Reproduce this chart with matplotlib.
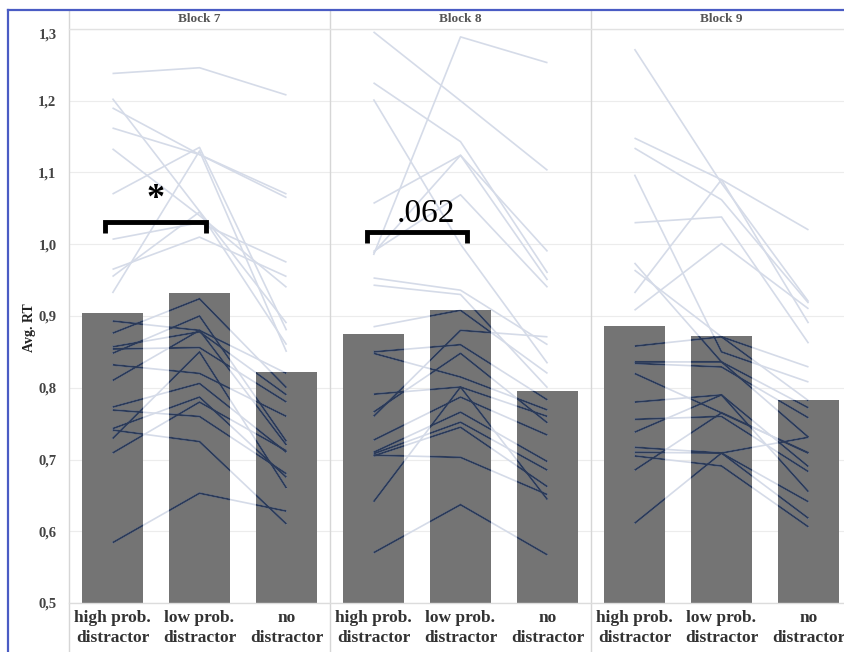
import numpy as np
import matplotlib.pyplot as plt
from matplotlib.collections import LineCollection
from matplotlib.lines import Line2D


blocks = ["Block 7", "Block 8", "Block 9"]
conditions = ["high prob.\ndistractor", "low prob.\ndistractor", "no\ndistractor"]

# bar heights (avg. RT) per block: high, low, no distractor
bar_rt = [
    [0.904, 0.932, 0.822],
    [0.875, 0.909, 0.796],
    [0.886, 0.872, 0.783],
]

# one row per participant: high prob., low prob., no distractor
subj_block7 = [
    [1.238, 1.246, 1.208], [1.203, 1.046, 0.890], [1.190, 1.125, 1.065],
    [1.162, 1.125, 1.070], [1.133, 1.040, 0.940], [1.070, 1.135, 0.880],
    [1.007, 1.030, 0.975], [0.965, 1.010, 0.955], [0.955, 1.045, 0.860],
    [0.932, 1.130, 0.850], [0.893, 0.880, 0.820], [0.876, 0.924, 0.800],
    [0.857, 0.878, 0.790], [0.854, 0.856, 0.780], [0.848, 0.900, 0.725],
    [0.832, 0.820, 0.760], [0.810, 0.880, 0.720], [0.773, 0.806, 0.710],
    [0.769, 0.760, 0.680], [0.743, 0.787, 0.675], [0.741, 0.725, 0.610],
    [0.729, 0.850, 0.660], [0.709, 0.780, 0.712], [0.584, 0.653, 0.628],
]
subj_block8 = [
    [1.296, 1.200, 1.103], [0.985, 1.289, 1.253], [1.225, 1.143, 0.960],
    [1.202, 1.000, 0.834], [1.057, 1.124, 0.990], [0.988, 1.124, 0.950],
    [0.990, 1.069, 0.940], [0.953, 0.936, 0.860], [0.943, 0.930, 0.800],
    [0.885, 0.908, 0.820], [0.850, 0.860, 0.783], [0.848, 0.815, 0.769],
    [0.791, 0.801, 0.760], [0.766, 0.848, 0.751], [0.727, 0.787, 0.734],
    [0.710, 0.766, 0.697], [0.708, 0.752, 0.685], [0.705, 0.745, 0.662],
    [0.706, 0.703, 0.651], [0.641, 0.801, 0.644], [0.570, 0.637, 0.567],
    [0.760, 0.880, 0.871],
]
subj_block9 = [
    [1.272, 1.085, 0.920], [1.148, 1.090, 1.020], [1.134, 1.062, 0.918],
    [1.097, 0.850, 0.808], [1.030, 1.038, 0.862], [0.974, 0.836, 0.731],
    [0.964, 0.871, 0.829], [0.932, 1.090, 0.890], [0.908, 1.001, 0.910],
    [0.858, 0.871, 0.782], [0.836, 0.836, 0.772], [0.834, 0.829, 0.758],
    [0.820, 0.765, 0.709], [0.780, 0.790, 0.690], [0.756, 0.760, 0.683],
    [0.738, 0.790, 0.655], [0.717, 0.709, 0.641], [0.710, 0.709, 0.618],
    [0.705, 0.691, 0.606], [0.685, 0.765, 0.709], [0.611, 0.709, 0.731],
]
subjects = [subj_block7, subj_block8, subj_block9]

y_ticks = [0.5, 0.6, 0.7, 0.8, 0.9, 1.0, 1.1, 1.2, 1.3]
y_tick_labels = ["0,5", "0,6", "0,7", "0,8", "0,9", "1,0", "1,1", "1,2", "1,3"]

W, H = 845, 652
SERIF = "Liberation Serif"


def fx(px):
    return px / W


def fy(py):
    return 1 - py / H


fig = plt.figure(figsize=(W / 100, H / 100), dpi=100)
fig.patch.set_facecolor("white")

panel_w = 261
axes = []
for i in range(3):
    left = 69 + panel_w * i
    ax = fig.add_axes([fx(left), fy(603), panel_w / W, (603 - 29) / H])
    axes.append(ax)
    x = np.arange(3)

    bars = ax.bar(x, np.array(bar_rt[i]) - 0.5, bottom=0.5, width=0.69,
                  color="#747474", zorder=2)

    segs = [list(zip(x, row)) for row in subjects[i]]
    light = LineCollection(segs, colors="#d5dbe8", linewidths=1.2, zorder=3)
    ax.add_collection(light)
    # same lines drawn dark where they cross a bar
    for b in bars:
        dark = LineCollection(segs, colors="#2b3a58", linewidths=1.4, zorder=4)
        ax.add_collection(dark)
        dark.set_clip_path(b)

    ax.set_xlim(-0.5, 2.5)
    ax.set_ylim(0.5, 1.3)
    ax.set_yticks(y_ticks)
    ax.grid(axis="y", color="#ececec", lw=0.8)
    ax.set_axisbelow(True)
    for s in ax.spines.values():
        s.set_visible(False)
    ax.tick_params(length=0, pad=5)
    ax.set_xticks(x)
    ax.set_xticklabels(conditions, fontfamily=SERIF, fontweight="bold",
                       fontsize=12.5, color="#333333", linespacing=1.3)
    if i == 0:
        ax.set_yticklabels(y_tick_labels, fontfamily=SERIF, fontweight="bold",
                           fontsize=10.5, color="#444444")
        ax.tick_params(axis="y", pad=9)
        ax.get_yticklabels()[-1].set_verticalalignment("top")
    else:
        ax.tick_params(axis="y", labelleft=False)

    fig.text(fx(left + panel_w / 2), fy(19), blocks[i], ha="center", va="center",
             fontfamily=SERIF, fontweight="bold", fontsize=9.5, color="#555555")

fig.text(fx(30), fy(328), "Avg. RT", rotation=90, ha="center", va="center",
         fontfamily=SERIF, fontweight="bold", fontsize=10, color="#222222")

# significance brackets
ax0, ax1 = axes[0], axes[1]
ax0.plot([-0.09, -0.09, 1.075, 1.075], [1.015, 1.031, 1.031, 1.015],
         color="black", lw=3.5, solid_joinstyle="miter", solid_capstyle="butt", zorder=5)
ax0.text(0.49, 1.062, "*", ha="center", va="center", fontfamily=SERIF,
         fontweight="bold", fontsize=26, zorder=5)
ax1.plot([-0.075, -0.075, 1.075, 1.075], [1.002, 1.017, 1.017, 1.002],
         color="black", lw=3.5, solid_joinstyle="miter", solid_capstyle="butt", zorder=5)
ax1.text(0.60, 1.042, ".062", ha="center", va="center", fontfamily=SERIF,
         fontsize=24, zorder=5)

# panel frame lines
grey = "#d6d6d6"
for px in [69, 330, 591]:
    fig.add_artist(Line2D([fx(px), fx(px)], [fy(10), fy(652)], color=grey, lw=1))
fig.add_artist(Line2D([fx(69), 1], [fy(29), fy(29)], color="#e2e2e2", lw=1))
fig.add_artist(Line2D([fx(69), 1], [fy(603), fy(603)], color="#dcdcdc", lw=1))

# blue outer frame
blue = "#4a5cc4"
fig.add_artist(Line2D([fx(8), fx(8)], [fy(10), 0], color=blue, lw=1.6))
fig.add_artist(Line2D([fx(8), 1], [fy(10), fy(10)], color=blue, lw=1.6))

fig.savefig("out.png", dpi=100)
